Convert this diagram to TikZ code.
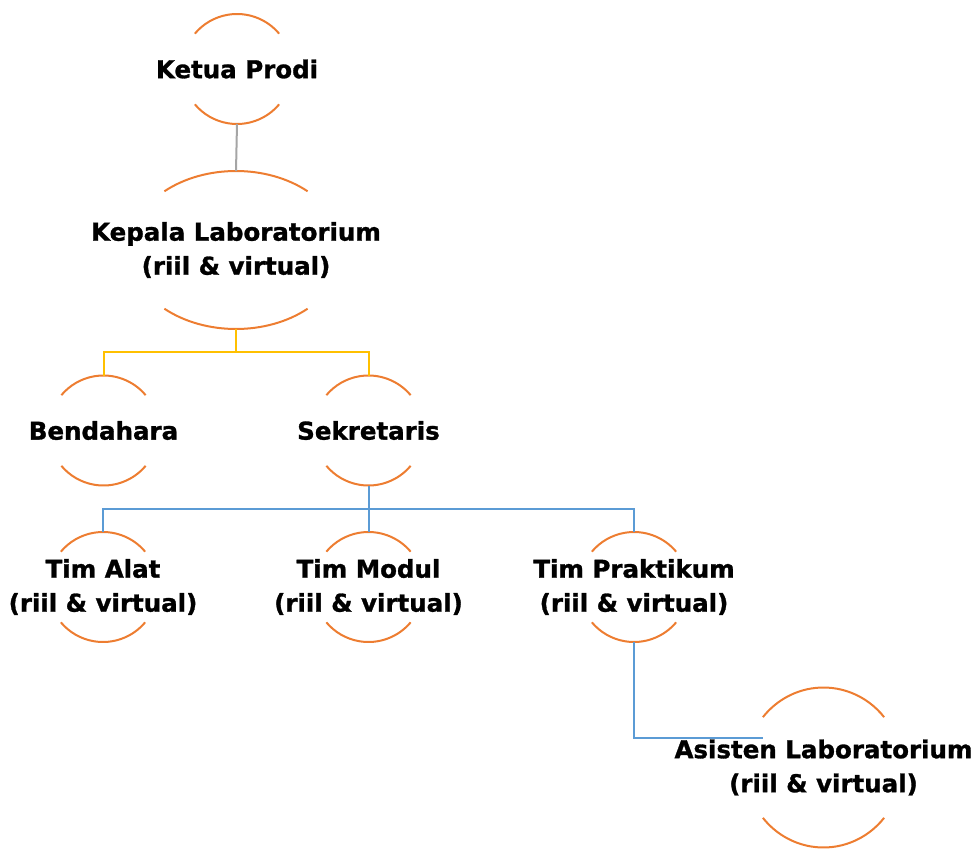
\documentclass[tikz,border=0pt]{standalone}
\usepackage{fontspec}
\setmainfont{DejaVu Sans}[BoldFeatures={FakeBold=1.2}]
\usetikzlibrary{calc}
\definecolor{arcorange}{HTML}{ED7D31}
\definecolor{lineyellow}{HTML}{FFC000}
\definecolor{lineblue}{HTML}{5B9BD5}
\definecolor{linegray}{HTML}{A5A5A5}
\tikzset{x=1pt, y=1pt,
    member/.style={align=center, inner sep=0pt,
        font=\fontsize{24.5}{34}\selectfont\bfseries},
    ringarc/.style={draw=arcorange, line width=2pt},
    link/.style={line width=2pt},
    }
% #1 name, #2 position, #3 x radius, #4 y radius, #5 arc angle, #6 text
\newcommand\member[6]{%
    \node[member] (#1) at (#2) {#6};
    \draw[ringarc] ($(#1.center)+(#5:#3pt and #4pt)$)
        arc[start angle=#5, end angle=180-#5, x radius=#3pt, y radius=#4pt];
    \draw[ringarc] ($(#1.center)+(-#5:#3pt and #4pt)$)
        arc[start angle=-#5, end angle=-180+#5, x radius=#3pt, y radius=#4pt];
    \coordinate (#1-top) at ($(#1.center)+(0,#4)$);
    \coordinate (#1-bot) at ($(#1.center)+(0,-#4)$);
}

\begin{document}
\begin{tikzpicture}
\useasboundingbox (0,0) rectangle (976,-850);
\member{ketua}{237,-69}{55}{55}{40}{Ketua Prodi}
\member{kepala}{236,-250}{107}{79}{48}{Kepala Laboratorium\\(riil \& virtual)}
\member{bendahara}{103.5,-430.5}{55}{55}{40}{Bendahara}
\member{sekretaris}{368.5,-430.5}{55}{55}{40}{Sekretaris}
\member{timalat}{103,-587}{55}{55}{40}{Tim Alat\\(riil \& virtual)}
\member{timmodul}{368.5,-587}{55}{55}{40}{Tim Modul\\(riil \& virtual)}
\member{timpraktikum}{634,-587}{55}{55}{40}{Tim Praktikum\\(riil \& virtual)}
\member{asisten}{823.5,-767.5}{78}{80}{39}{Asisten Laboratorium\\(riil \& virtual)}
\coordinate (kepala-fork) at (236,-352);
\coordinate (sekretaris-fork) at (368.5,-509);
\coordinate (asisten-in) at (763,-738);
% connectors
\draw[link, linegray] (ketua-bot) -- (kepala-top);
\draw[link, lineyellow] (kepala-bot) -- (kepala-fork) -| (bendahara-top);
\draw[link, lineyellow] (kepala-fork) -| (sekretaris-top);
\draw[link, lineblue] (sekretaris-bot) -- (timmodul-top);
\draw[link, lineblue] (sekretaris-fork) -| (timalat-top);
\draw[link, lineblue] (sekretaris-fork) -| (timpraktikum-top);
\draw[link, lineblue] (timpraktikum-bot) |- (asisten-in);
\end{tikzpicture}
\end{document}
